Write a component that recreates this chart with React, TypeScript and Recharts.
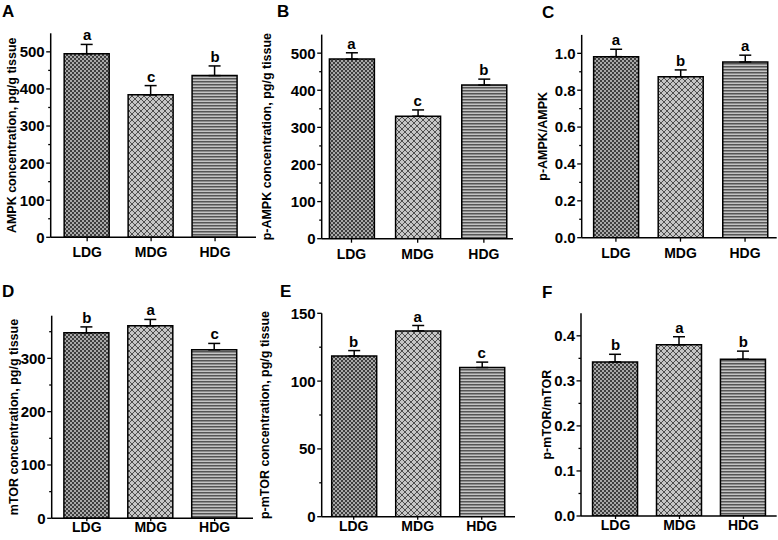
import React from "react";
import {
  Bar,
  Cell,
  ComposedChart,
  ErrorBar,
  LabelList,
  Line,
  XAxis,
  YAxis,
} from "recharts";

const groups = ["LDG", "MDG", "HDG"];
const groupPos = [1, 2, 3];

const ampkMean = [495, 384, 436];
const ampkSd = [25, 25, 26];
const ampkSig = ["a", "c", "b"];

const pAmpkMean = [484, 330, 414];
const pAmpkSd = [17, 17, 16];
const pAmpkSig = ["a", "c", "b"];

const ampkRatioMean = [0.982, 0.873, 0.953];
const ampkRatioSd = [0.04, 0.037, 0.037];
const ampkRatioSig = ["a", "b", "a"];

const mtorMean = [348, 361, 316];
const mtorSd = [11, 12, 12];
const mtorSig = ["b", "a", "c"];

const pMtorMean = [118.5, 137, 110];
const pMtorSd = [4, 4, 4];
const pMtorSig = ["b", "a", "c"];

const mtorRatioMean = [0.342, 0.38, 0.348];
const mtorRatioSd = [0.017, 0.018, 0.018];
const mtorRatioSig = ["b", "a", "b"];

const concTicks = [0, 100, 200, 300, 400, 500];
const concMinor = [50, 150, 250, 350, 450];
const ratioTicks = [0, 0.2, 0.4, 0.6, 0.8, 1.0];
const ratioMinor = [0.1, 0.3, 0.5, 0.7, 0.9];
const mtorTicks = [0, 100, 200, 300];
const mtorMinor = [50, 150, 250, 350];
const pMtorTicks = [0, 50, 100, 150];
const pMtorMinor = [25, 75, 125];
const mtorRatioTicks = [0, 0.1, 0.2, 0.3, 0.4];
const mtorRatioMinor = [0.05, 0.15, 0.25, 0.35];

const FONT = '"Liberation Sans", Arial, sans-serif';
const fills = ["url(#pLDG)", "url(#pMDG)", "url(#pHDG)"];

function makeRows(mean: number[], sd: number[], sig: string[]) {
  return groups.map((g, i) => ({
    pos: groupPos[i],
    name: g,
    mean: mean[i],
    err: [0, sd[i]],
    top: mean[i] + sd[i],
    sig: sig[i],
  }));
}

const int = (v: number) => String(v);
const one = (v: number) => v.toFixed(1);

function YTick(props: any) {
  const { x, y, payload, major, fmt } = props;
  const isMajor = major.some((m: number) => Math.abs(m - payload.value) < 1e-9);
  return (
    <g>
      <line x1={x} x2={x - (isMajor ? 4.5 : 2.5)} y1={y} y2={y} stroke="#000" strokeWidth={1.3} />
      {isMajor && (
        <text
          x={x - 6}
          y={y}
          dy="0.36em"
          textAnchor="end"
          fontSize={15}
          fontWeight={700}
          fontFamily={FONT}
          fill="#000"
        >
          {fmt(payload.value)}
        </text>
      )}
    </g>
  );
}

function Panel(p: any) {
  const ticks = [...p.ticks, ...p.minor].sort((a: number, b: number) => a - b);
  return (
    <div style={{ position: "absolute", left: p.left, top: p.top }}>
      <ComposedChart
        width={p.width}
        height={p.height}
        data={p.data}
        margin={{ top: p.mt, right: p.mr, left: 0, bottom: 0 }}
      >
        <XAxis
          dataKey="pos"
          type="number"
          domain={p.xDomain}
          ticks={groupPos}
          interval={0}
          allowDataOverflow
          height={p.xHeight}
          tickFormatter={(v: number) => groups[v - 1]}
          axisLine={{ stroke: "#000", strokeWidth: 1.5 }}
          tickLine={{ stroke: "#000", strokeWidth: 1.3 }}
          tickSize={p.xTickSize}
          tickMargin={p.xTickMargin}
          tick={{ fontSize: 14, fontWeight: 700, fill: "#000", fontFamily: FONT }}
        />
        <YAxis
          type="number"
          domain={p.yDomain}
          ticks={ticks}
          interval={0}
          allowDataOverflow
          width={p.yWidth}
          axisLine={{ stroke: "#000", strokeWidth: 1.5 }}
          tickLine={false}
          tickSize={0}
          tickMargin={0}
          tick={<YTick major={p.ticks} fmt={p.fmt} />}
          label={{
            value: p.label,
            angle: -90,
            position: "insideLeft",
            offset: p.labelOffset,
            style: {
              textAnchor: "middle",
              fontSize: 12.5,
              fontWeight: 700,
              fill: "#000",
              fontFamily: FONT,
            },
          }}
        />
        <Bar dataKey="mean" barSize={45} stroke="#000" strokeWidth={1.5} isAnimationActive={false}>
          {p.data.map((_: any, i: number) => (
            <Cell key={i} fill={fills[i]} />
          ))}
          <ErrorBar dataKey="err" width={6} stroke="#000" strokeWidth={1.5} direction="y" />
        </Bar>
        <Line
          dataKey="top"
          stroke="none"
          dot={false}
          activeDot={false}
          legendType="none"
          isAnimationActive={false}
        >
          <LabelList
            dataKey="sig"
            position="top"
            offset={4}
            fontSize={15}
            fontWeight={700}
            fill="#000"
            fontFamily={FONT}
          />
        </Line>
      </ComposedChart>
    </div>
  );
}

const panelLetters = [
  { t: "A", x: 2, y: 17 },
  { t: "B", x: 277, y: 16.5 },
  { t: "C", x: 542, y: 18 },
  { t: "D", x: 2, y: 296.5 },
  { t: "E", x: 280, y: 296.5 },
  { t: "F", x: 542, y: 298 },
];

export default function App() {
  return (
    <div
      style={{
        position: "absolute",
        left: 0,
        top: 0,
        width: 778,
        height: 540,
        background: "#fff",
        overflow: "hidden",
      }}
    >
      <svg width={778} height={540} style={{ position: "absolute", left: 0, top: 0 }}>
        <defs>
          <pattern id="pLDG" width="4" height="4" patternUnits="userSpaceOnUse">
            <rect width="4" height="4" fill="#a9a9a9" />
            <rect width="2" height="2" fill="#3e3e3e" />
            <rect x="2" y="2" width="2" height="2" fill="#3e3e3e" />
          </pattern>
          <pattern id="pMDG" width="6" height="6" patternUnits="userSpaceOnUse">
            <rect width="6" height="6" fill="#c6c6c6" />
            <path d="M0 0L6 6M6 0L0 6" stroke="#4e4e4e" strokeWidth="1" />
          </pattern>
          <pattern id="pHDG" width="3" height="3" patternUnits="userSpaceOnUse">
            <rect width="3" height="3" fill="#c4c4c4" />
            <rect width="3" height="1" fill="#555" />
            <rect y="1" width="3" height="1" fill="#8c8c8c" />
          </pattern>
        </defs>
        {panelLetters.map((l) => (
          <text
            key={l.t}
            x={l.x}
            y={l.y}
            fontSize={17}
            fontWeight={700}
            fontFamily={FONT}
            fill="#000"
          >
            {l.t}
          </text>
        ))}
      </svg>
      <Panel
        data={makeRows(ampkMean, ampkSd, ampkSig)}
        left={0} top={0} width={258} height={267.3} mt={33.3} mr={2}
        yWidth={50.7} xHeight={30} xTickSize={4} xTickMargin={6}
        xDomain={[0.43, 3.64]} yDomain={[0, 550]}
        ticks={concTicks} minor={concMinor} fmt={int}
        label="AMPK concentration, pg/g tissue" labelOffset={12}
      />
      <Panel
        data={makeRows(pAmpkMean, pAmpkSd, pAmpkSig)}
        left={255} top={0} width={260} height={268.7} mt={34.6} mr={2}
        yWidth={66.7} xHeight={30} xTickSize={4} xTickMargin={6}
        xDomain={[0.55, 3.44]} yDomain={[0, 550]}
        ticks={concTicks} minor={concMinor} fmt={int}
        label="p-AMPK concentration, pg/g tissue" labelOffset={11.7}
      />
      <Panel
        data={makeRows(ampkRatioMean, ampkRatioSd, ampkRatioSig)}
        left={520} top={0} width={257.7} height={267.7} mt={34.9} mr={1}
        yWidth={61.7} xHeight={30} xTickSize={4} xTickMargin={6}
        xDomain={[0.47, 3.49]} yDomain={[0, 1.1]}
        ticks={ratioTicks} minor={ratioMinor} fmt={one}
        label="p-AMPK/AMPK" labelOffset={23}
      />
      <Panel
        data={makeRows(mtorMean, mtorSd, mtorSig)}
        left={0} top={270} width={254} height={270} mt={45.7} mr={1}
        yWidth={51.7} xHeight={21.7} xTickSize={3} xTickMargin={1}
        xDomain={[0.45, 3.6]} yDomain={[0, 380]}
        ticks={mtorTicks} minor={mtorMinor} fmt={int}
        label="mTOR concentration, pg/g tissue" labelOffset={13.3}
      />
      <Panel
        data={makeRows(pMtorMean, pMtorSd, pMtorSig)}
        left={255} top={270} width={261} height={270} mt={43.3} mr={1}
        yWidth={66.7} xHeight={23.3} xTickSize={3} xTickMargin={1}
        xDomain={[0.5, 3.52]} yDomain={[0, 150]}
        ticks={pMtorTicks} minor={pMtorMinor} fmt={int}
        label="p-mTOR concentration, pg/g tissue" labelOffset={10}
      />
      <Panel
        data={makeRows(mtorRatioMean, mtorRatioSd, mtorRatioSig)}
        left={520} top={270} width={257.7} height={270} mt={43.3} mr={1}
        yWidth={61} xHeight={24} xTickSize={3} xTickMargin={1}
        xDomain={[0.46, 3.52]} yDomain={[0, 0.45]}
        ticks={mtorRatioTicks} minor={mtorRatioMinor} fmt={one}
        label="p-mTOR/mTOR" labelOffset={26.7}
      />
    </div>
  );
}
